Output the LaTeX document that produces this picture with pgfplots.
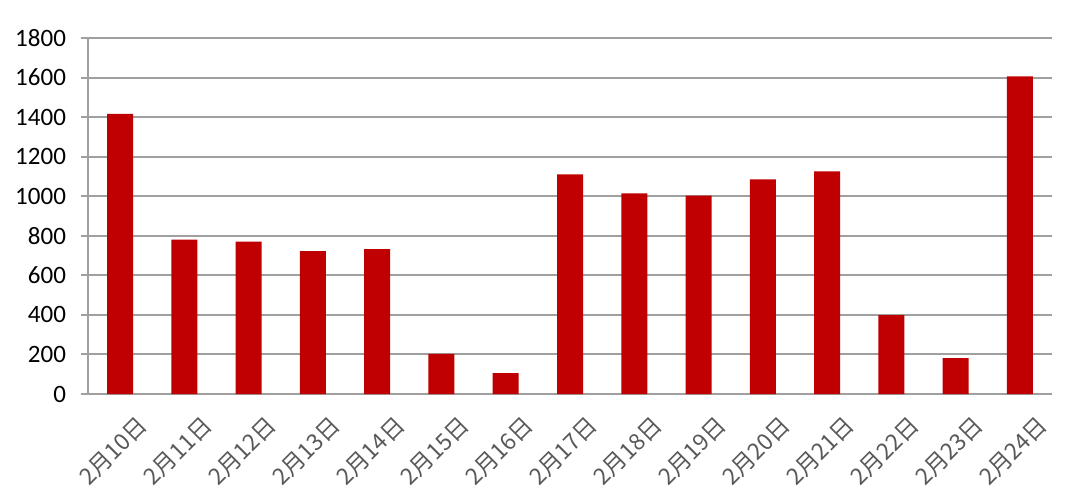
\documentclass[border=0pt]{standalone}
\usepackage{fontspec}
\setmainfont{Carlito}
\newfontfamily\cjk{Noto Sans CJK SC}
\usepackage{pgfplots}
\pgfplotsset{compat=1.18}
\definecolor{barred}{HTML}{C00000}
\definecolor{gridgray}{HTML}{A0A0A0}
\definecolor{labgray}{HTML}{595959}
\begin{document}
\begin{tikzpicture}[x=1pt,y=1pt]
\path[use as bounding box] (0,0) rectangle (540,250);
\begin{axis}[
  at={(44pt,53pt)}, anchor=south west,
  scale only axis, width=482pt, height=178pt,
  xmin=-0.5, xmax=14.5, ymin=0, ymax=1800,
  ytick={0,200,...,1800},
  xtick={0,...,14},
  xticklabels={2月10日,2月11日,2月12日,2月13日,2月14日,2月15日,2月16日,2月17日,2月18日,2月19日,2月20日,2月21日,2月22日,2月23日,2月24日},
  axis x line=bottom, axis y line=left,
  axis line style={gridgray, line width=1pt, -},
  ymajorgrids, grid style={gridgray, line width=1pt},
  tick align=outside, major tick length=3.5pt,
  ytick style={gridgray, line width=1pt},
  xtick style={draw=none},
  ybar, bar width=13pt,
  yticklabel style={font=\fontsize{12.5}{14}\selectfont, black, xshift=-4pt},
  xticklabel style={rotate=45, anchor=north east, font=\cjk\fontsize{11.5}{13}\selectfont, labgray, xshift=4.5pt, yshift=-7pt},
  /pgf/number format/assume math mode=true,
  /pgf/number format/set thousands separator={},
]
\addplot[fill=barred, draw=none] coordinates {
  (0,1417) (1,780) (2,770) (3,723) (4,733) (5,203) (6,106)
  (7,1111) (8,1015) (9,1003) (10,1085) (11,1126) (12,399) (13,182) (14,1606)
};
\end{axis}
\end{tikzpicture}
\end{document}
